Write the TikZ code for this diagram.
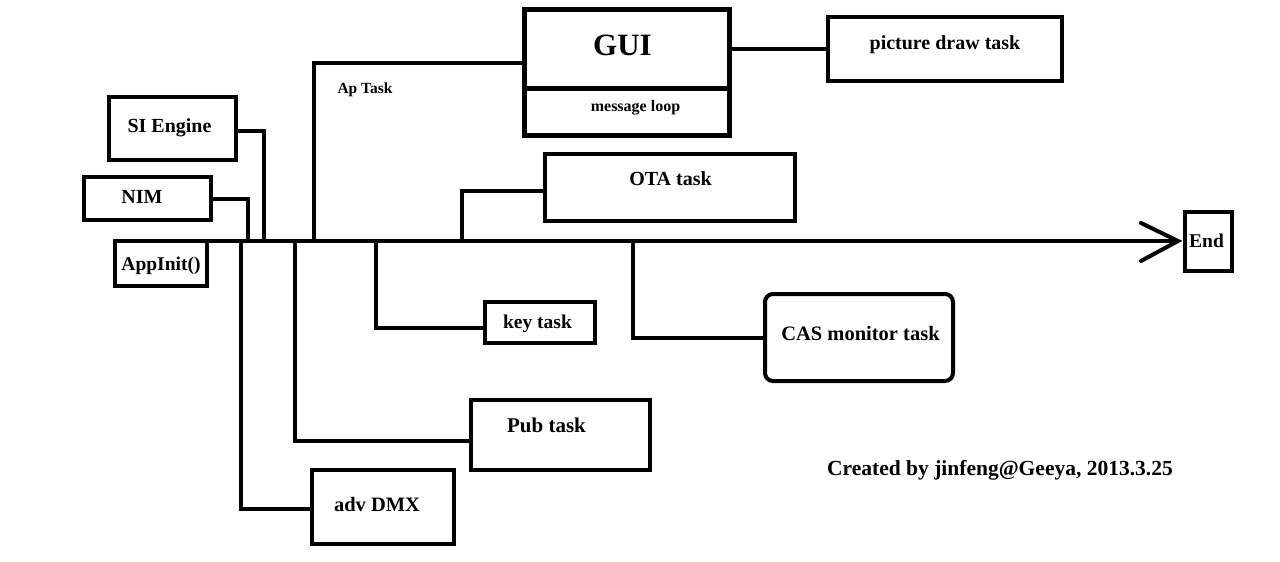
\documentclass[tikz,border=0pt]{standalone}
\usepackage{fontspec}
\setmainfont{Liberation Serif}[BoldFont={Liberation Serif/B}]
\begin{document}
\begin{tikzpicture}[x=1pt,y=-1pt,
  box/.style={draw=black, line width=4pt, inner sep=0pt, fill=white},
  wire/.style={draw=black, line width=4pt, line join=miter},
  lbl/.style={inner sep=0pt, anchor=base, font=\rmfamily\bfseries\fontsize{#1}{#1}\selectfont},
  lbl/.default=20]
\fill[white] (0,0) rectangle (1280,562);
\useasboundingbox (0,0) rectangle (1280,562);

% junction coordinates on the main line
\coordinate (start) at (113,241);
\coordinate (tip) at (1178,241);
\coordinate (barbA) at (1141,223);
\coordinate (barbB) at (1141,261);
\coordinate (jADV) at (241,241);
\coordinate (jNIM) at (248,241);
\coordinate (jSI) at (264,241);
\coordinate (jPUB) at (295,241);
\coordinate (jAP) at (314,241);
\coordinate (jKEY) at (376,241);
\coordinate (jOTA) at (462,241);
\coordinate (jCAS) at (633,241);
\coordinate (divy) at (0,88);

% boxes
\node[box, minimum width=127pt, minimum height=63pt] (si) at (172.5,128.5) {};
\node[box, minimum width=127pt, minimum height=43pt] (nim) at (147.5,198.5) {};
\node[box, minimum width=205pt, minimum height=126pt, line width=5pt] (gui) at (627,72.5) {};
\node[box, minimum width=234pt, minimum height=64pt] (pic) at (945,49) {};
\node[box, minimum width=250pt, minimum height=67pt] (ota) at (670,187.5) {};
\node[box, minimum width=110pt, minimum height=41pt] (key) at (540,322.5) {};
\node[box, minimum width=179pt, minimum height=70pt] (pub) at (560.5,435) {};
\node[box, minimum width=142pt, minimum height=74pt] (adv) at (383,507) {};
\node[box, rounded corners=8pt, minimum width=188pt, minimum height=87pt] (cas) at (859,337.5) {};
\node[box, minimum width=47pt, minimum height=59pt] (end) at (1208.5,241.5) {};

% connectors
\draw[wire] ([yshift=-2.5pt]si.east) -| (jSI);
\draw[wire] (nim.east) -| (jNIM);
\draw[wire] (jAP) |- ([yshift=9.5pt]gui.west);
\draw[wire] (pic.west -| gui.east) -- (pic.west);
\draw[wire] (jOTA) |- ([yshift=-3.5pt]ota.west);
\draw[wire] (jADV) |- ([yshift=-2pt]adv.west);
\draw[wire] (jPUB) |- ([yshift=-6pt]pub.west);
\draw[wire] (jKEY) |- ([yshift=-5.5pt]key.west);
\draw[wire] (jCAS) |- (cas.west);
\draw[line width=5pt] (gui.west |- divy) -- (gui.east |- divy);

% AppInit box (top edge lies on the main line)
\node[box, minimum width=92pt, minimum height=45pt] (app) at (161,263.5) {};

% main time line with open arrow head
\draw[line width=4.5pt] (start) -- (tip);
\draw[line width=4pt, line cap=round, line join=miter] (barbA) -- (tip) -- (barbB);

% labels
\node[lbl=20] (si-t) at (169.5,132) {SI Engine};
\node[lbl=20] (nim-t) at (142,203) {NIM};
\node[lbl=19.5] (app-t) at (161,270) {AppInit()};
\node[lbl=15.5] (ap-t) at (365,93) {Ap Task};
\node[lbl=31] (gui-t) at (622.5,55) {GUI};
\node[lbl=16] (msg-t) at (635.5,111) {message loop};
\node[lbl=20] (pic-t) at (945,49.5) {picture draw task};
\node[lbl=20] (ota-t) at (670.5,185) {OTA task};
\node[lbl=19.5] (key-t) at (537.5,328) {key task};
\node[lbl=21] (pub-t) at (546.5,432) {Pub task};
\node[lbl=20.5] (adv-t) at (377,511) {adv DMX};
\node[lbl=20.5] (cas-t) at (860.5,340) {CAS monitor task};
\node[lbl=19.5] (end-t) at (1206.5,247) {End};
\node[lbl=21.5] (credit) at (1000,475) {Created by jinfeng@Geeya, 2013.3.25};
\end{tikzpicture}
\end{document}
